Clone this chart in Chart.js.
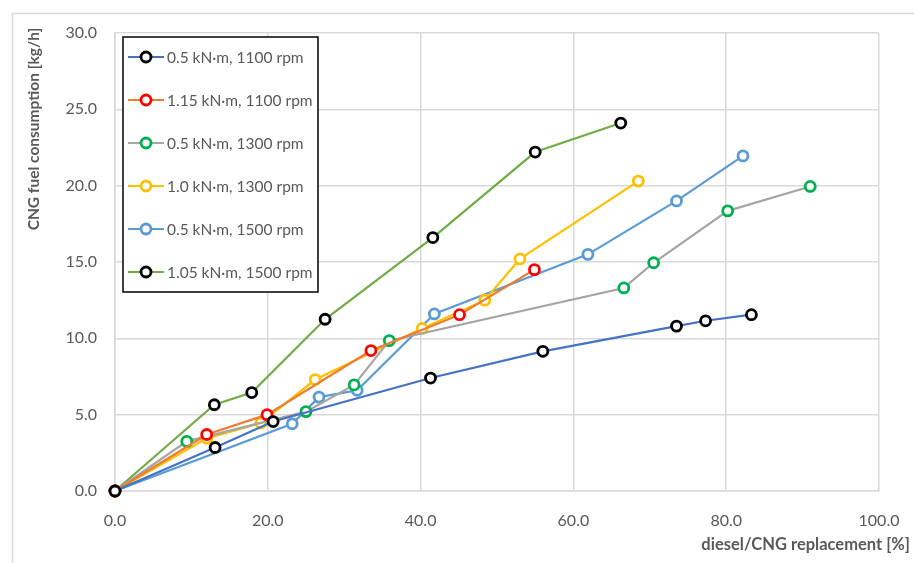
<!DOCTYPE html>
<html>
<head>
<meta charset="utf-8">
<script src="https://cdn.jsdelivr.net/npm/chart.js@4.4.1/dist/chart.umd.min.js"></script>
<style>
  html, body { margin: 0; padding: 0; background: #fff; }
  #wrap { width: 914px; height: 563px; position: relative; }
</style>
</head>
<body>
<div id="wrap"><canvas id="myChart" width="914" height="563"></canvas></div>
<script>
// series labels
const seriesNames = [
  "0.5 kN\u00b7m, 1100 rpm",
  "1.15 kN\u00b7m, 1100 rpm",
  "0.5 kN\u00b7m, 1300 rpm",
  "1.0 kN\u00b7m, 1300 rpm",
  "0.5 kN\u00b7m, 1500 rpm",
  "1.05 kN\u00b7m, 1500 rpm"
];

// diesel/CNG replacement [%] and CNG fuel consumption [kg/h]
const x1 = [0, 13.1, 20.7, 41.3, 56.0, 73.5, 77.3, 83.3];
const y1 = [0, 2.85, 4.55, 7.4, 9.15, 10.8, 11.15, 11.55];

const x2 = [0, 12.0, 19.9, 33.5, 45.1, 54.9];
const y2 = [0, 3.7, 5.0, 9.2, 11.55, 14.5];

const x3 = [0, 9.4, 25.0, 31.3, 35.9, 66.6, 70.5, 80.2, 91.0];
const y3 = [0, 3.25, 5.2, 6.95, 9.85, 13.3, 14.95, 18.35, 19.95];

const x4 = [0, 12.0, 19.1, 26.2, 40.2, 48.4, 53.0, 68.5];
const y4 = [0, 3.45, 4.45, 7.3, 10.65, 12.5, 15.2, 20.3];

const x5 = [0, 23.2, 26.7, 31.7, 41.8, 61.9, 73.5, 82.2];
const y5 = [0, 4.4, 6.15, 6.6, 11.6, 15.5, 19.0, 21.95];

const x6 = [0, 13.0, 17.9, 27.5, 41.6, 55.0, 66.2];
const y6 = [0, 5.65, 6.45, 11.25, 16.6, 22.2, 24.1];

const xTicks = [0, 20, 40, 60, 80, 100];
const yTicks = [0, 5, 10, 15, 20, 25, 30];

const lineColors = ["#4472C4", "#ED7D31", "#A5A5A5", "#FFC000", "#5B9BD5", "#70AD47"];
const markerColors = ["#000000", "#FF0000", "#00B050", "#FFC000", "#5B9BD5", "#000000"];

const allX = [x1, x2, x3, x4, x5, x6];
const allY = [y1, y2, y3, y4, y5, y6];

const textColor = "#595959";
const gridColor = "#D9D9D9";
const fontFamily = "Lato, 'Open Sans', 'DejaVu Sans', sans-serif";

const datasets = seriesNames.map((name, i) => ({
  label: name,
  data: allX[i].map((x, j) => ({ x: x, y: allY[i][j] })),
  borderColor: lineColors[i],
  backgroundColor: "#FFFFFF",
  pointBorderColor: markerColors[i],
  pointBackgroundColor: "#FFFFFF",
  pointRadius: 5,
  pointBorderWidth: 2.8,
  borderWidth: 2.2,
  tension: 0,
  fill: false,
  clip: false
}));

// frame, axis titles and boxed legend
const decorPlugin = {
  id: "decor",
  beforeDraw(chart) {
    const c = chart.ctx;
    c.save();
    c.fillStyle = "#fff";
    c.fillRect(0, 0, chart.width, chart.height);
    c.strokeStyle = gridColor;
    c.lineWidth = 1.5;
    c.beginPath();
    c.moveTo(12.5, chart.height);
    c.lineTo(12.5, 13.5);
    c.lineTo(chart.width, 13.5);
    c.stroke();
    c.restore();
  },
  afterDraw(chart) {
    const c = chart.ctx;
    c.save();
    c.fillStyle = textColor;
    c.font = "bold 15.5px " + fontFamily;
    c.textBaseline = "middle";
    // y title
    c.save();
    c.translate(34, 129);
    c.rotate(-Math.PI / 2);
    c.textAlign = "center";
    c.fillText("CNG fuel consumption [kg/h]", 0, 0);
    c.restore();
    // x title
    c.font = "bold 16.5px " + fontFamily;
    c.textAlign = "right";
    c.fillText("diesel/CNG replacement [%]", 910, 545);

    // legend
    const lx = 123, ly = 37, lw = 195, lh = 255;
    c.fillStyle = "#fff";
    c.fillRect(lx, ly, lw, lh);
    c.strokeStyle = "#000";
    c.lineWidth = 1.5;
    c.strokeRect(lx, ly, lw, lh);
    c.font = "15.5px " + fontFamily;
    c.textAlign = "left";
    seriesNames.forEach((name, i) => {
      const yy = 57 + i * 43;
      c.strokeStyle = lineColors[i];
      c.lineWidth = 2.2;
      c.beginPath();
      c.moveTo(128, yy);
      c.lineTo(164, yy);
      c.stroke();
      c.beginPath();
      c.arc(146, yy, 5, 0, Math.PI * 2);
      c.fillStyle = "#fff";
      c.fill();
      c.strokeStyle = markerColors[i];
      c.lineWidth = 2.8;
      c.stroke();
      c.fillStyle = textColor;
      c.fillText(name, 167, yy + 1);
    });
    c.restore();
  }
};

const ctx = document.getElementById("myChart").getContext("2d");
new Chart(ctx, {
  type: "line",
  data: { datasets: datasets },
  plugins: [decorPlugin],
  options: {
    responsive: false,
    animation: false,
    layout: { padding: { left: 0, top: 33, right: 35, bottom: 0 } },
    plugins: {
      legend: { display: false },
      tooltip: { enabled: false }
    },
    scales: {
      x: {
        type: "linear",
        min: 0,
        max: 100,
        afterFit: (s) => { s.height = 72; s.paddingLeft = 0; s.paddingRight = 0; },
        afterBuildTicks: (s) => { s.ticks = xTicks.map((v) => ({ value: v })); },
        grid: { color: gridColor, lineWidth: 1.5, drawTicks: false },
        border: { color: gridColor, width: 1.5 },
        ticks: {
          color: textColor,
          font: { family: fontFamily, size: 16 },
          padding: 20,
          callback: (v) => Number(v).toFixed(1)
        }
      },
      y: {
        type: "linear",
        min: 0,
        max: 30,
        afterFit: (s) => { s.width = 115; s.paddingTop = 0; s.paddingBottom = 0; },
        afterBuildTicks: (s) => { s.ticks = yTicks.map((v) => ({ value: v })); },
        grid: { color: gridColor, lineWidth: 1.5, drawTicks: false },
        border: { color: gridColor, width: 1.5 },
        ticks: {
          color: textColor,
          font: { family: fontFamily, size: 16 },
          padding: 18,
          callback: (v) => Number(v).toFixed(1)
        }
      }
    }
  }
});
</script>
</body>
</html>
